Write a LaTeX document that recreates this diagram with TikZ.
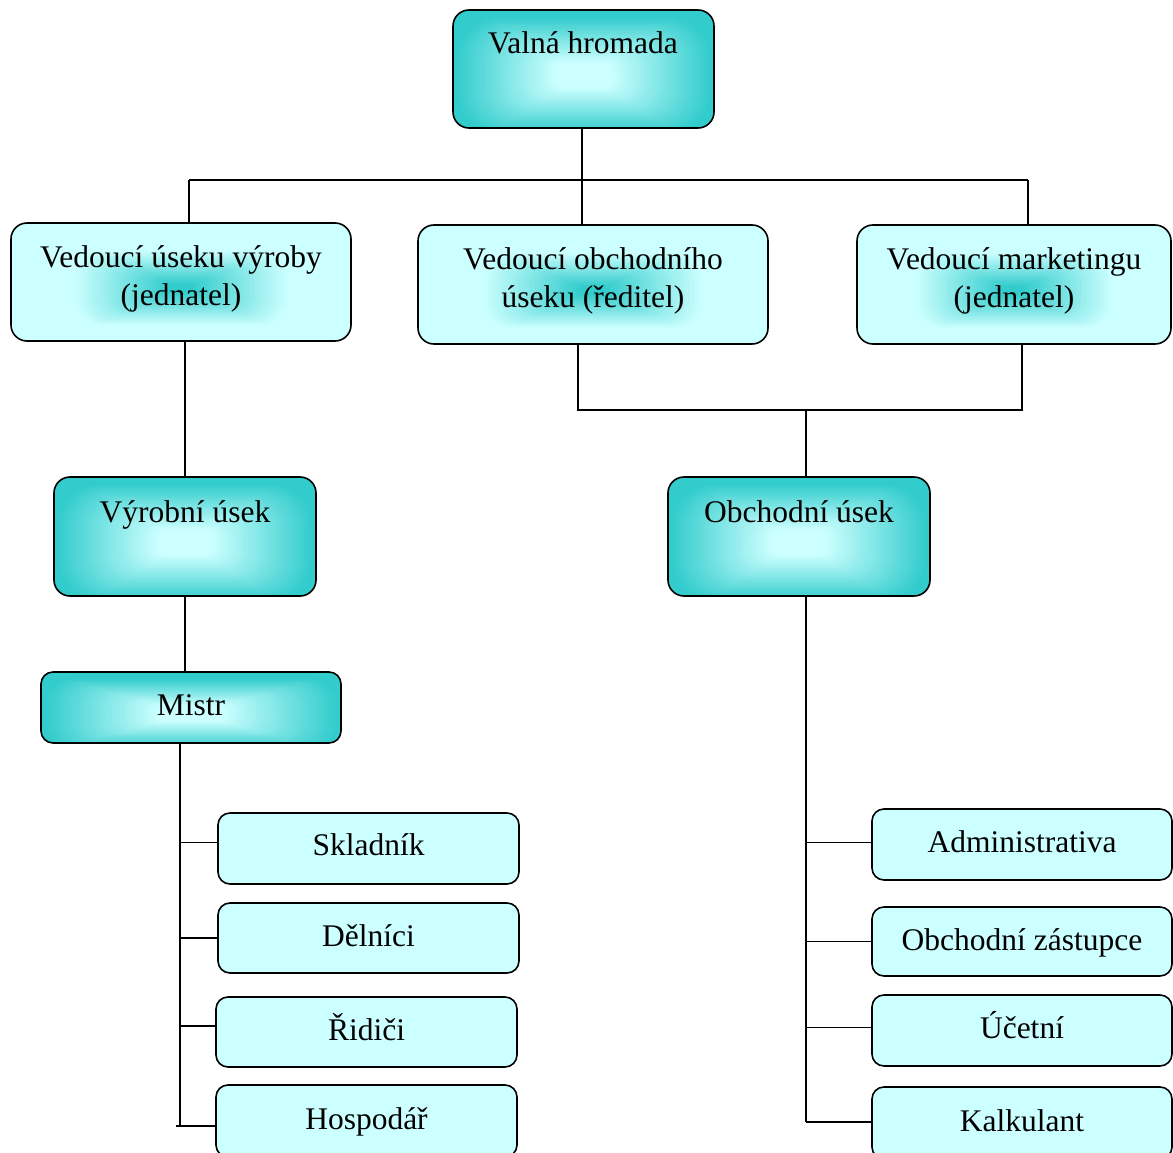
\documentclass[tikz,border=0pt]{standalone}
\usepackage{fontspec}
\setmainfont{Liberation Serif}
\definecolor{tealdark}{RGB}{51,204,204}
\definecolor{cyanlight}{RGB}{204,255,255}
% stepped glow inside a box, drawn as nested rounded rectangles
% #1 = o (light centre, teal rim) or i (teal centre, light rim)
\newcommand{\glowfill}[1]{%
  \pgfpointdiff{\pgfpointanchor{path picture bounding box}{center}}%
               {\pgfpointanchor{path picture bounding box}{north east}}%
  \pgfgetlastxy{\gHW}{\gHH}%
  \foreach \k in {50,49,...,1}{%
    \pgfmathsetmacro{\gR}{\k/50*1.2}%
    \ifx#1o%
      \pgfmathtruncatemacro{\gP}{max(0,min(100,(\gR-0.22)/0.76*100))}%
    \else
      \pgfmathtruncatemacro{\gP}{max(0,min(100,(0.64-\gR)/0.56*100))}%
    \fi
    \pgfmathsetmacro{\gW}{\gR*\gHW}%
    \pgfmathsetmacro{\gH}{\gR*\gHH}%
    \pgfmathsetmacro{\gC}{0.7*\gH}%
    \fill[tealdark!\gP!cyanlight, rounded corners=\gC pt]
      ([xshift=-\gW pt, yshift=-\gH pt - 6pt]path picture bounding box.center)
      rectangle ([xshift=\gW pt, yshift=\gH pt - 6pt]path picture bounding box.center);
  }%
}
\tikzset{
  box/.style={draw=black, line width=1.6pt, inner sep=0pt, rounded corners=#1},
  box/.default=16pt,
  outglow/.style={box=#1, fill=tealdark, path picture={\glowfill{o}}},
  outglow/.default=16pt,
  inglow/.style={box, fill=cyanlight, path picture={\glowfill{i}}},
  flat/.style={box=12pt, fill=cyanlight},
  lbl/.style={inner sep=0pt, font=\fontsize{31.5}{38}\selectfont, align=center},
  wire/.style={line width=1.5pt, black}
}
\begin{document}
\begin{tikzpicture}[x=1pt, y=-1pt]
\useasboundingbox (0,0) rectangle (1173,1153);

% top level
\node[outglow, minimum width=261pt, minimum height=118pt] (vh) at (583.5,69) {};
\node[lbl, anchor=base] (vh-t) at (583,54) {Valná hromada};

% managers
\node[inglow, minimum width=340pt, minimum height=118pt] (vv) at (181,282) {};
\node[lbl, anchor=north] (vv-t) at (181,245) {Vedoucí úseku výroby\\(jednatel)};
\node[inglow, minimum width=350pt, minimum height=119pt] (vo) at (593,284.5) {};
\node[lbl, anchor=north] (vo-t) at (593,247) {Vedoucí obchodního\\úseku (ředitel)};
\node[inglow, minimum width=314pt, minimum height=119pt] (vm) at (1014,284.5) {};
\node[lbl, anchor=north] (vm-t) at (1014,247) {Vedoucí marketingu\\(jednatel)};

% departments
\node[outglow, minimum width=262pt, minimum height=119pt] (vu) at (185,536.5) {};
\node[lbl, anchor=base] (vu-t) at (185,522) {Výrobní úsek};
\node[outglow, minimum width=262pt, minimum height=119pt] (ou) at (799,536.5) {};
\node[lbl, anchor=base] (ou-t) at (799,522) {Obchodní úsek};

% foreman
\node[outglow=12pt, minimum width=300pt, minimum height=71pt] (mi) at (191,707.5) {};
\node[lbl, anchor=base] (mi-t) at (191,715) {Mistr};

% production staff
\node[flat, minimum width=301pt, minimum height=71pt] (sk) at (368.5,848.5) {};
\node[lbl, anchor=base] (sk-t) at (368.5,855) {Skladník};
\node[flat, minimum width=301pt, minimum height=70pt] (de) at (368.5,938) {};
\node[lbl, anchor=base] (de-t) at (368.5,946) {Dělníci};
\node[flat, minimum width=301pt, minimum height=70pt] (ri) at (366.5,1032) {};
\node[lbl, anchor=base] (ri-t) at (366.5,1040) {Řidiči};
\node[flat, minimum width=301pt, minimum height=72pt] (ho) at (366.5,1121) {};
\node[lbl, anchor=base] (ho-t) at (366.5,1129) {Hospodář};

% sales staff
\node[flat, minimum width=300pt, minimum height=71pt] (ad) at (1022,844.5) {};
\node[lbl, anchor=base] (ad-t) at (1022,852) {Administrativa};
\node[flat, minimum width=300pt, minimum height=69pt] (oz) at (1022,941.5) {};
\node[lbl, anchor=base] (oz-t) at (1022,950) {Obchodní zástupce};
\node[flat, minimum width=300pt, minimum height=71pt] (uc) at (1022,1030.5) {};
\node[lbl, anchor=base] (uc-t) at (1022,1038) {Účetní};
\node[flat, minimum width=300pt, minimum height=72pt] (ka) at (1022,1123) {};
\node[lbl, anchor=base] (ka-t) at (1022,1131) {Kalkulant};

% connectors: top level to managers
\coordinate (t0) at (582,180);
\coordinate (t1) at (189,180);
\coordinate (t2) at (1028,180);
\draw[wire] (t0 |- vh.south) -- (t0 |- vo.north);
\draw[wire] (t1) -- (t2);
\draw[wire] (t1) -- (t1 |- vv.north);
\draw[wire] (t2) -- (t2 |- vm.north);

% production branch
\draw[wire] (vu.north) -- (vu.north |- vv.south);
\draw[wire] (vu.south) -- (vu.south |- mi.north);

% sales branch
\coordinate (b1) at (578,410);
\coordinate (b2) at (1022,410);
\coordinate (b3) at (806,410);
\draw[wire] (b1 |- vo.south) -- (b1) -- (b2) -- (b2 |- vm.south);
\draw[wire] (b3) -- (b3 |- ou.north);

% production staff tree
\coordinate (mt) at (180,1126);
\draw[wire] (mt |- mi.south) -- (mt);
\draw[wire] ([yshift=6pt]mt |- sk.west) -- ([yshift=6pt]sk.west);
\draw[wire] (mt |- de.west) -- (de.west);
\draw[wire] ([yshift=6pt]mt |- ri.west) -- ([yshift=6pt]ri.west);
\draw[wire] ([xshift=-4pt]mt) -- (mt -| ho.west);

% sales staff tree
\coordinate (rt) at (806,1122);
\draw[wire] (rt |- ou.south) -- (rt);
\draw[wire] ([yshift=2pt]rt |- ad.west) -- ([yshift=2pt]ad.west);
\draw[wire] (rt |- oz.west) -- (oz.west);
\draw[wire] ([yshift=3pt]rt |- uc.west) -- ([yshift=3pt]uc.west);
\draw[wire] (rt) -- (rt -| ka.west);
\end{tikzpicture}
\end{document}
